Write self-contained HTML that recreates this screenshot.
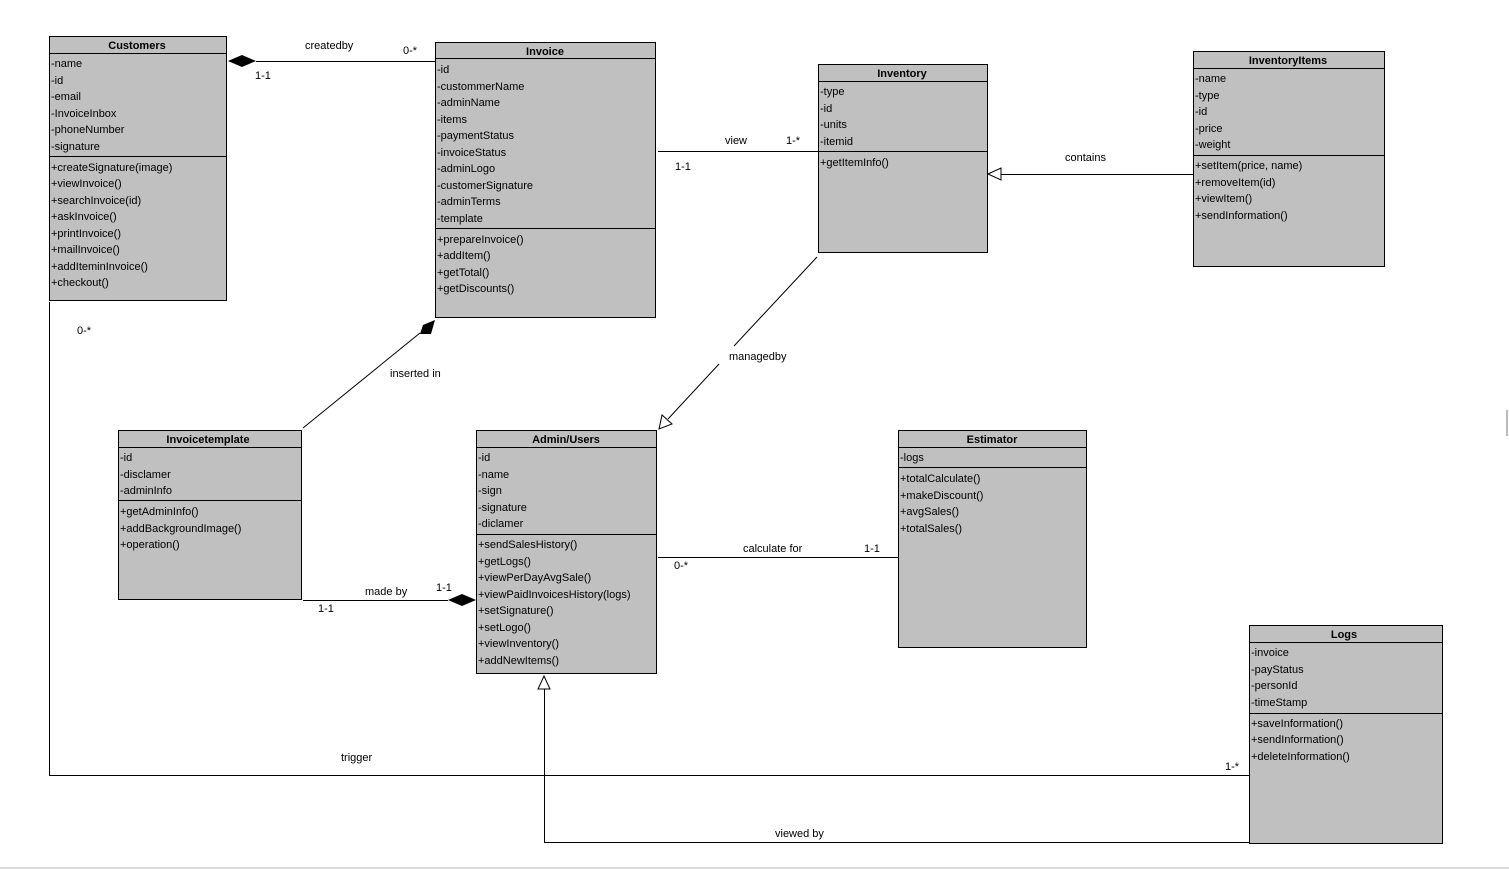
<!DOCTYPE html>
<html><head><meta charset="utf-8"><style>
html,body{margin:0;padding:0;background:#fff;}
svg{display:block;}
text{font-family:"Liberation Sans",Arial,sans-serif;font-size:11px;fill:#000;}
.t{font-weight:bold;text-anchor:middle;}
.b{fill:#c0c0c0;stroke:#000;stroke-width:1;}
.l{stroke:#000;stroke-width:1;fill:none;}
</style></head><body>
<svg width="1509" height="869" viewBox="0 0 1509 869" xmlns="http://www.w3.org/2000/svg">
<!-- Customers -->
<rect class="b" x="49.5" y="36.5" width="177" height="264"/>
<line class="l" x1="49" y1="53.5" x2="226" y2="53.5"/><line class="l" x1="49" y1="156.5" x2="226" y2="156.5"/>
<text class="t" x="137" y="49">Customers</text>
<g transform="translate(51,0)">
<text y="67">-name</text><text y="84">-id</text><text y="100">-email</text><text y="117">-InvoiceInbox</text><text y="133">-phoneNumber</text><text y="150">-signature</text>
<text y="171">+createSignature(image)</text><text y="187">+viewInvoice()</text><text y="204">+searchInvoice(id)</text><text y="220">+askInvoice()</text><text y="237">+printInvoice()</text><text y="253">+mailInvoice()</text><text y="270">+addIteminInvoice()</text><text y="286">+checkout()</text>
</g>
<!-- Invoice -->
<rect class="b" x="435.5" y="42.5" width="220" height="275"/>
<line class="l" x1="435" y1="58.5" x2="655" y2="58.5"/><line class="l" x1="435" y1="228.5" x2="655" y2="228.5"/>
<text class="t" x="545" y="55">Invoice</text>
<g transform="translate(437,0)">
<text y="73">-id</text><text y="90">-custommerName</text><text y="106">-adminName</text><text y="123">-items</text><text y="139">-paymentStatus</text><text y="156">-invoiceStatus</text><text y="172">-adminLogo</text><text y="189">-customerSignature</text><text y="205">-adminTerms</text><text y="222">-template</text>
<text y="243">+prepareInvoice()</text><text y="259">+addItem()</text><text y="276">+getTotal()</text><text y="292">+getDiscounts()</text>
</g>
<!-- Inventory -->
<rect class="b" x="818.5" y="64.5" width="169" height="188"/>
<line class="l" x1="818" y1="81.5" x2="987" y2="81.5"/><line class="l" x1="818" y1="151.5" x2="987" y2="151.5"/>
<text class="t" x="902" y="77">Inventory</text>
<g transform="translate(820,0)">
<text y="95">-type</text><text y="112">-id</text><text y="128">-units</text><text y="145">-itemid</text><text y="166">+getItemInfo()</text>
</g>
<!-- InventoryItems -->
<rect class="b" x="1193.5" y="51.5" width="191" height="215"/>
<line class="l" x1="1193" y1="68.5" x2="1384" y2="68.5"/><line class="l" x1="1193" y1="155.5" x2="1384" y2="155.5"/>
<text class="t" x="1288" y="64">InventoryItems</text>
<g transform="translate(1195,0)">
<text y="82">-name</text><text y="99">-type</text><text y="115">-id</text><text y="132">-price</text><text y="148">-weight</text>
<text y="169">+setItem(price, name)</text><text y="186">+removeItem(id)</text><text y="202">+viewItem()</text><text y="219">+sendInformation()</text>
</g>
<!-- Invoicetemplate -->
<rect class="b" x="118.5" y="430.5" width="183" height="169"/>
<line class="l" x1="118" y1="447.5" x2="301" y2="447.5"/><line class="l" x1="118" y1="500.5" x2="301" y2="500.5"/>
<text class="t" x="208" y="443">Invoicetemplate</text>
<g transform="translate(120,0)">
<text y="461">-id</text><text y="478">-disclamer</text><text y="494">-adminInfo</text>
<text y="515">+getAdminInfo()</text><text y="532">+addBackgroundImage()</text><text y="548">+operation()</text>
</g>
<!-- Admin/Users -->
<rect class="b" x="476.5" y="430.5" width="180" height="243"/>
<line class="l" x1="476" y1="447.5" x2="656" y2="447.5"/><line class="l" x1="476" y1="534.5" x2="656" y2="534.5"/>
<text class="t" x="566" y="443">Admin/Users</text>
<g transform="translate(478,0)">
<text y="461">-id</text><text y="478">-name</text><text y="494">-sign</text><text y="511">-signature</text><text y="527">-diclamer</text>
<text y="548">+sendSalesHistory()</text><text y="565">+getLogs()</text><text y="581">+viewPerDayAvgSale()</text><text y="598">+viewPaidInvoicesHistory(logs)</text><text y="614">+setSignature()</text><text y="631">+setLogo()</text><text y="647">+viewInventory()</text><text y="664">+addNewItems()</text>
</g>
<!-- Estimator -->
<rect class="b" x="898.5" y="430.5" width="188" height="217"/>
<line class="l" x1="898" y1="447.5" x2="1086" y2="447.5"/><line class="l" x1="898" y1="467.5" x2="1086" y2="467.5"/>
<text class="t" x="992" y="443">Estimator</text>
<g transform="translate(900,0)">
<text y="461">-logs</text>
<text y="482">+totalCalculate()</text><text y="499">+makeDiscount()</text><text y="515">+avgSales()</text><text y="532">+totalSales()</text>
</g>
<!-- Logs -->
<rect class="b" x="1249.5" y="625.5" width="193" height="218"/>
<line class="l" x1="1249" y1="642.5" x2="1442" y2="642.5"/><line class="l" x1="1249" y1="713.5" x2="1442" y2="713.5"/>
<text class="t" x="1344" y="638">Logs</text>
<g transform="translate(1251,0)">
<text y="656">-invoice</text><text y="673">-payStatus</text><text y="689">-personId</text><text y="706">-timeStamp</text>
<text y="727">+saveInformation()</text><text y="743">+sendInformation()</text><text y="760">+deleteInformation()</text>
</g>

<!-- connectors -->
<line class="l" x1="256" y1="61.5" x2="435" y2="61.5"/>
<polygon points="228,61 242,55 256,61 242,67" fill="#000"/>
<text x="305" y="49">createdby</text><text x="403" y="54">0-*</text><text x="255" y="79">1-1</text>

<line class="l" x1="658" y1="151.5" x2="818" y2="151.5"/>
<text x="725" y="144">view</text><text x="786" y="144">1-*</text><text x="675" y="170">1-1</text>

<line class="l" x1="1001" y1="174.5" x2="1193" y2="174.5"/>
<polygon points="988,174 1001,168 1001,180" fill="#fff" stroke="#000"/>
<text x="1065" y="161">contains</text>

<line class="l" x1="817" y1="257" x2="734" y2="346"/>
<line class="l" x1="719" y1="364" x2="668" y2="419"/>
<polygon points="659,429 662,415 672,424" fill="#fff" stroke="#000"/>
<text x="729" y="360">managedby</text>

<line class="l" x1="303" y1="428" x2="420" y2="333"/>
<polygon points="435,320 431,334 420,334 423,325" fill="#000"/>
<text x="390" y="377">inserted in</text>

<line class="l" x1="303" y1="600.5" x2="448" y2="600.5"/>
<polygon points="448,600 462,594 476,600 462,606" fill="#000"/>
<text x="365" y="595">made by</text><text x="436" y="591">1-1</text><text x="318" y="612">1-1</text>

<line class="l" x1="658" y1="557.5" x2="898" y2="557.5"/>
<text x="743" y="552">calculate for</text><text x="864" y="552">1-1</text><text x="674" y="569">0-*</text>

<polyline class="l" points="49.5,302 49.5,775.5 1249,775.5"/>
<text x="341" y="761">trigger</text><text x="77" y="334">0-*</text><text x="1225" y="770">1-*</text>

<polyline class="l" points="1249,842.5 544.5,842.5 544.5,689"/>
<polygon points="544,676 538,689 550,689" fill="#fff" stroke="#000"/>
<text x="775" y="837">viewed by</text>

<line x1="0" y1="868" x2="1509" y2="868" stroke="#ddd" stroke-width="2"/>
<line x1="1507" y1="410" x2="1507" y2="436" stroke="#bbb" stroke-width="2"/>
</svg>
</body></html>
